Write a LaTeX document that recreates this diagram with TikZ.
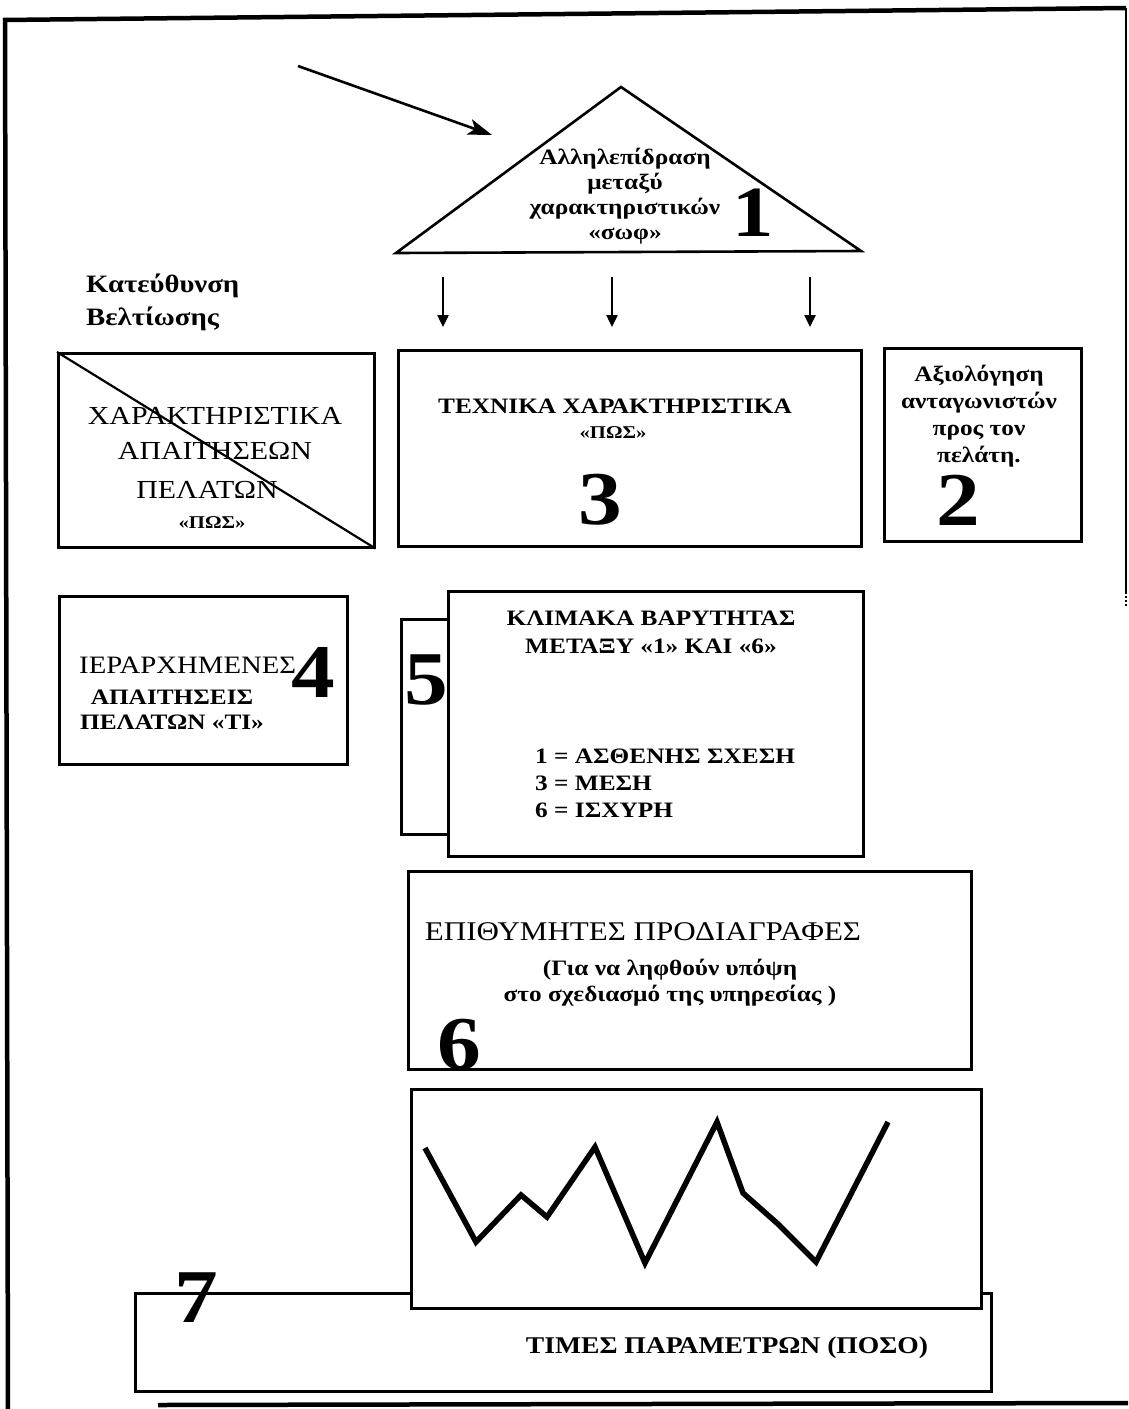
\documentclass[tikz,border=0pt]{standalone}
\usepackage{fontspec}
\setmainfont[FakeStretch=1.15]{Liberation Serif}
\usetikzlibrary{arrows.meta}
\newcommand\fsbig{\fontsize{26}{32}\selectfont}
\newcommand\fsspec{\fontsize{27}{32}\selectfont}
\newcommand\fsrank{\fontsize{25}{30}\selectfont}
\newcommand\fsbold{\bfseries\fontsize{22}{25}\selectfont}
\newcommand\fsdir{\bfseries\fontsize{25}{33}\selectfont}
\newcommand\fsparam{\bfseries\fontsize{24}{28}\selectfont}
\newcommand\fshow{\bfseries\fontsize{18}{22}\selectfont}
\newcommand\fsnum{\bfseries\fontsize{76}{76}\selectfont}
\newcommand\fsone{\bfseries\fontsize{72}{72}\selectfont}
\begin{document}
\begin{tikzpicture}[x=1pt,y=-1pt,
  box/.style={draw,line width=2.5pt,fill=white,inner sep=0pt,anchor=north west},
  lbl/.style={inner sep=0pt,align=center},
  frameline/.style={line width=4.5pt},
  downarrow/.style={line width=2.4pt,-{Triangle[length=12pt,width=11pt]}}]
\useasboundingbox (0,0) rectangle (1128,1409);

% page frame
\draw[frameline] (3,20) -- (1126,8);
\draw[frameline] (5,18) -- (8,1409);
\draw[line width=2pt] (1126,8) -- (1126,592);
\draw[line width=2pt,dotted] (1126,592) -- (1126,606);
\draw[frameline] (158,1405) -- (1128,1403);

% triangle 1
\coordinate (apex) at (621,87);
\coordinate (tl) at (396,253);
\coordinate (tr) at (861,251);
\draw[line width=2.6pt,line join=miter] (tl) -- (apex) -- (tr) -- cycle;
\node[lbl,font=\fsbold] (inter) at (625,196) {Αλληλεπίδραση\\μεταξύ\\χαρακτηριστικών\\«σωφ»};
\node[lbl,font=\fsone] (n1) at (753,213) {1};

% incoming arrow
\coordinate (ain) at (298,66);
\coordinate (aout) at (492,135);
\draw[line width=2.6pt,-{Stealth[length=24pt,width=16pt,inset=6pt]}] (ain) -- (aout);

% arrows below the triangle
\foreach \x/\n in {443/a,612/b,810/c}{
  \coordinate (s\n) at (\x,277);
  \coordinate (e\n) at (\x,327);
  \draw[downarrow] (s\n) -- (e\n);
}

\node[lbl,align=left,anchor=west,font=\fsdir] (dir) at (86,302) {Κατεύθυνση\\Βελτίωσης};

% customer requirements box, crossed
\node[box,minimum width=316pt,minimum height=194pt] (req) at (57,352) {};
\draw[line width=2.2pt] (req.north west) -- (req.south east);
\node[lbl,font=\fsbig] (reqa) at (215,416) {ΧΑΡΑΚΤΗΡΙΣΤΙΚΑ};
\node[lbl,font=\fsbig] (reqb) at (215,451) {ΑΠΑΙΤΗΣΕΩΝ};
\node[lbl,font=\fsbig] (reqc) at (207,490) {ΠΕΛΑΤΩΝ};
\node[lbl,font=\fshow] (reqd) at (212,523) {«ΠΩΣ»};

% technical characteristics
\node[box,minimum width=463pt,minimum height=196pt] (tech) at (397,349) {};
\node[lbl,font=\fsbold] (techa) at (615,406) {ΤΕΧΝΙΚΑ ΧΑΡΑΚΤΗΡΙΣΤΙΚΑ};
\node[lbl,font=\fshow] (techb) at (613,433) {«ΠΩΣ»};
\node[lbl,font=\fsnum] (n3) at (600,500) {3};

% competitor evaluation
\node[box,minimum width=197pt,minimum height=193pt] (comp) at (883,347) {};
\node[lbl,font=\fsbold,align=center] (compa) at (979,416)
  {Αξιολόγηση\\[2pt]ανταγωνιστών\\[2pt]προς τον\\[2pt]πελάτη.};
\node[lbl,font=\fsnum] (n2) at (958,500) {2};

% ranked requirements
\node[box,minimum width=288pt,minimum height=168pt] (rank) at (58,595) {};
\node[lbl,anchor=west,font=\fsrank] (ranka) at (79,665) {ΙΕΡΑΡΧΗΜΕΝΕΣ};
\node[lbl,font=\fsnum] (n4) at (313,672) {4};
\node[lbl,font=\fsbold] (rankb) at (172,710) {ΑΠΑΙΤΗΣΕΙΣ\\ΠΕΛΑΤΩΝ «ΤΙ»};

% weighting scale
\node[box,minimum width=415pt,minimum height=265pt] (scale) at (447,590) {};
\node[box,minimum width=47pt,minimum height=215pt] (five) at (400,618) {};
\node[lbl,font=\fsnum] (n5) at (426,680) {5};
\node[lbl,font=\fsbold] (scalea) at (651,632) {ΚΛΙΜΑΚΑ ΒΑΡΥΤΗΤΑΣ\\[3pt]ΜΕΤΑΞΥ «1» ΚΑΙ «6»};
\node[lbl,align=left,anchor=west,font=\fsbold] (scaleb) at (535,783)
  {1 = ΑΣΘΕΝΗΣ ΣΧΕΣΗ\\[2pt]3 = ΜΕΣΗ\\[2pt]6 = ΙΣΧΥΡΗ};

% desired specifications
\node[box,minimum width=563pt,minimum height=198pt] (spec) at (407,870) {};
\node[lbl,font=\fsspec] (speca) at (643,932) {ΕΠΙΘΥΜΗΤΕΣ ΠΡΟΔΙΑΓΡΑΦΕΣ};
\node[lbl,font=\fsbold] (specb) at (670,983) {(Για να ληφθούν υπόψη\\[1pt]στο σχεδιασμό της υπηρεσίας )};
\node[lbl,font=\fsnum] (n6) at (459,1045) {6};

% parameter values and chart
\node[box,minimum width=856pt,minimum height=98pt] (param) at (134,1292) {};
\node[box,minimum width=570pt,minimum height=219pt] (chart) at (410,1088) {};
\draw[line width=5.5pt,line join=miter]
  (425,1148) -- (476,1242) -- (521,1195) -- (547,1217) -- (595,1147)
  -- (645,1263) -- (717,1122) -- (743,1193) -- (778,1224) -- (816,1262) -- (888,1122);
\node[lbl,font=\fsnum] (n7) at (196,1298) {7};
\node[lbl,font=\fsparam] (parama) at (727,1348) {ΤΙΜΕΣ ΠΑΡΑΜΕΤΡΩΝ (ΠΟΣΟ)};
\end{tikzpicture}
\end{document}
